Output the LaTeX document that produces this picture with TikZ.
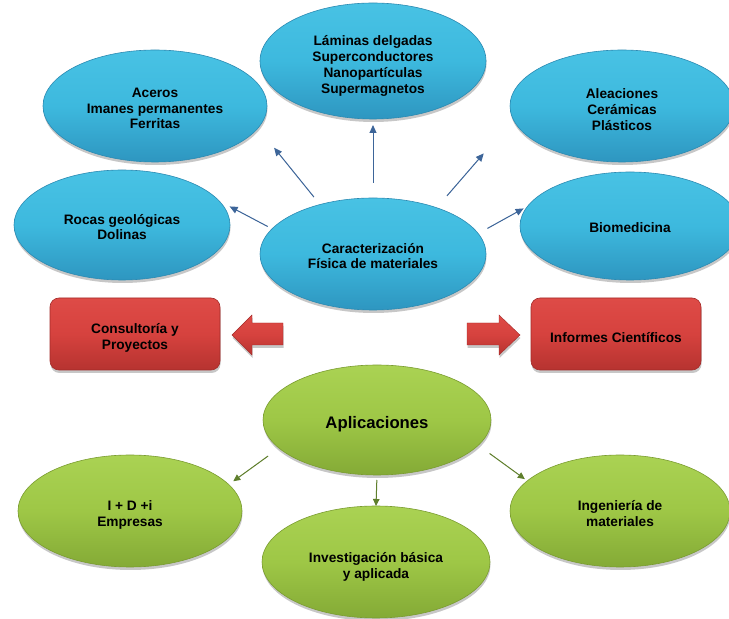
\documentclass[tikz,border=0pt]{standalone}
\usepackage{fontspec}
\setmainfont{Liberation Sans}
\usetikzlibrary{shapes.geometric,arrows.meta,shadows}
\definecolor{bluetop}{HTML}{48C2E4}
\definecolor{bluemid}{HTML}{3DB9DE}
\definecolor{bluebot}{HTML}{2E96C0}
\definecolor{blueedge}{HTML}{2B8AB2}
\definecolor{redtop}{HTML}{DE4B47}
\definecolor{redmid}{HTML}{D6423E}
\definecolor{redbot}{HTML}{B63330}
\definecolor{rededge}{HTML}{A32B29}
\definecolor{greentop}{HTML}{AAD253}
\definecolor{greenmid}{HTML}{9EC746}
\definecolor{greenbot}{HTML}{84AA36}
\definecolor{greenedge}{HTML}{7A9C30}
\definecolor{bluearrow}{HTML}{3D6599}
\definecolor{greenarrow}{HTML}{5F7F2C}
\begin{document}
\begin{tikzpicture}[x=1pt,y=1pt,
  txt/.style={font=\fontsize{13.7}{15.8}\selectfont\bfseries, align=center,
    inner sep=0pt, outer sep=0pt, text=black},
  shape0/.style={inner sep=0pt, outer sep=0pt},
  shad/.style={drop shadow={shadow xshift=0.5pt, shadow yshift=-3pt, opacity=0.22, fill=black}},
  blueell/.style={shape0, ellipse, shad, top color=bluetop, bottom color=bluebot,
    middle color=bluemid, draw=blueedge, line width=0.6pt},
  greenell/.style={shape0, ellipse, shad, top color=greentop, bottom color=greenbot,
    middle color=greenmid, draw=greenedge, line width=0.6pt},
  redbox/.style={shape0, rectangle, rounded corners=9pt, shad, top color=redtop,
    bottom color=redbot, middle color=redmid, draw=rededge, line width=0.6pt,
    minimum width=170pt, minimum height=72pt},
  bluearr/.style={-{Triangle[length=8pt,width=7pt]}, draw=bluearrow, fill=bluearrow, line width=1pt},
  greenarr/.style={-{Triangle[length=7pt,width=6.5pt]}, draw=greenarrow, fill=greenarrow, line width=1pt},
  blockarr/.style={top color=redtop, bottom color=redbot, middle color=redmid, draw=rededge, line width=0.4pt, shad}
]
\fill[white] (0,0) rectangle (729,619);
\useasboundingbox (0,0) rectangle (729,619);

% blue ellipses
\node[blueell, minimum width=224pt, minimum height=112pt] (aceros) at (155,513) {};
\node[blueell, minimum width=226pt, minimum height=116pt] (laminas) at (373,558) {};
\node[blueell, minimum width=224pt, minimum height=112pt] (aleac) at (622,513) {};
\node[blueell, minimum width=216pt, minimum height=110pt] (rocas) at (122,394) {};
\node[blueell, minimum width=226pt, minimum height=112pt] (car) at (373,365) {};
\node[blueell, minimum width=220pt, minimum height=108pt] (biomed) at (630,393) {};

% red boxes
\node[redbox] (consult) at (135,285) {};
\node[redbox] (informes) at (616,285) {};

% block arrows
\path[blockarr] (232,284) -- (252,304) -- (252,296) -- (283,296) -- (283,274)
  -- (252,274) -- (252,264) -- cycle;
\path[blockarr] (520,284) -- (499,304) -- (499,296) -- (467,296) -- (467,274)
  -- (499,274) -- (499,264) -- cycle;

% green ellipses
\node[greenell, minimum width=228pt, minimum height=110pt] (apl) at (377,199) {};
\node[greenell, minimum width=224pt, minimum height=112pt] (ipd) at (130,108) {};
\node[greenell, minimum width=228pt, minimum height=112pt] (inv) at (376,57) {};
\node[greenell, minimum width=220pt, minimum height=112pt] (ing) at (620,108) {};

% texts
\node[txt] (acerosT) at (155,510.5) {Aceros\\Imanes permanentes\\Ferritas};
\node[txt] (laminasT) at (373,553) {L\'aminas delgadas\\Superconductores\\Nanopart\'iculas\\Supermagnetos};
\node[txt] (aleacT) at (622,509.5) {Aleaciones\\Cer\'amicas\\Pl\'asticos};
\node[txt] (rocasT) at (122,392) {Rocas geol\'ogicas\\Dolinas};
\node[txt] (carT) at (373,363) {Caracterizaci\'on\\F\'isica de materiales};
\node[txt] (biomedT) at (630,391) {Biomedicina};
\node[txt] (consultT) at (135,281) {Consultor\'ia y\\Proyectos};
\node[txt] (informesT) at (616,281) {Informes Cient\'ificos};
\node[txt, font=\fontsize{16.7}{19}\selectfont\bfseries] (aplT) at (377,194.5) {Aplicaciones};
\node[txt] (ipdT) at (130,104) {I + D +i\\Empresas};
\node[txt] (invT) at (376,52.5) {Investigaci\'on b\'asica\\y aplicada};
\node[txt] (ingT) at (620,105.5) {Ingenier\'ia de\\materiales};

% blue connectors
\draw[bluearr, shorten <=9.7pt, shorten >=25.5pt] (car.137) -- (aceros.-12);
\draw[bluearr, shorten <=5pt, shorten >=12pt] (car.166) -- (rocas.14);
\draw[bluearr, shorten <=15pt, shorten >=6pt] (car.90) -- (laminas.-90);
\draw[bluearr, shorten <=15.7pt, shorten >=45pt] (car.36) -- (aleac.187.5);
\draw[bluearr, shorten <=10.6pt, shorten >=4.7pt] (car.11) -- (biomed.169);

% green connectors
\draw[greenarr, shorten <=13.5pt, shorten >=5.6pt] (apl.196) -- (ipd.15);
\draw[greenarr, shorten <=5pt, shorten >=0pt] (apl.-90) -- (inv.90);
\draw[greenarr, shorten <=14pt, shorten >=3pt] (apl.-14.5) -- (ing.162);
\end{tikzpicture}
\end{document}
